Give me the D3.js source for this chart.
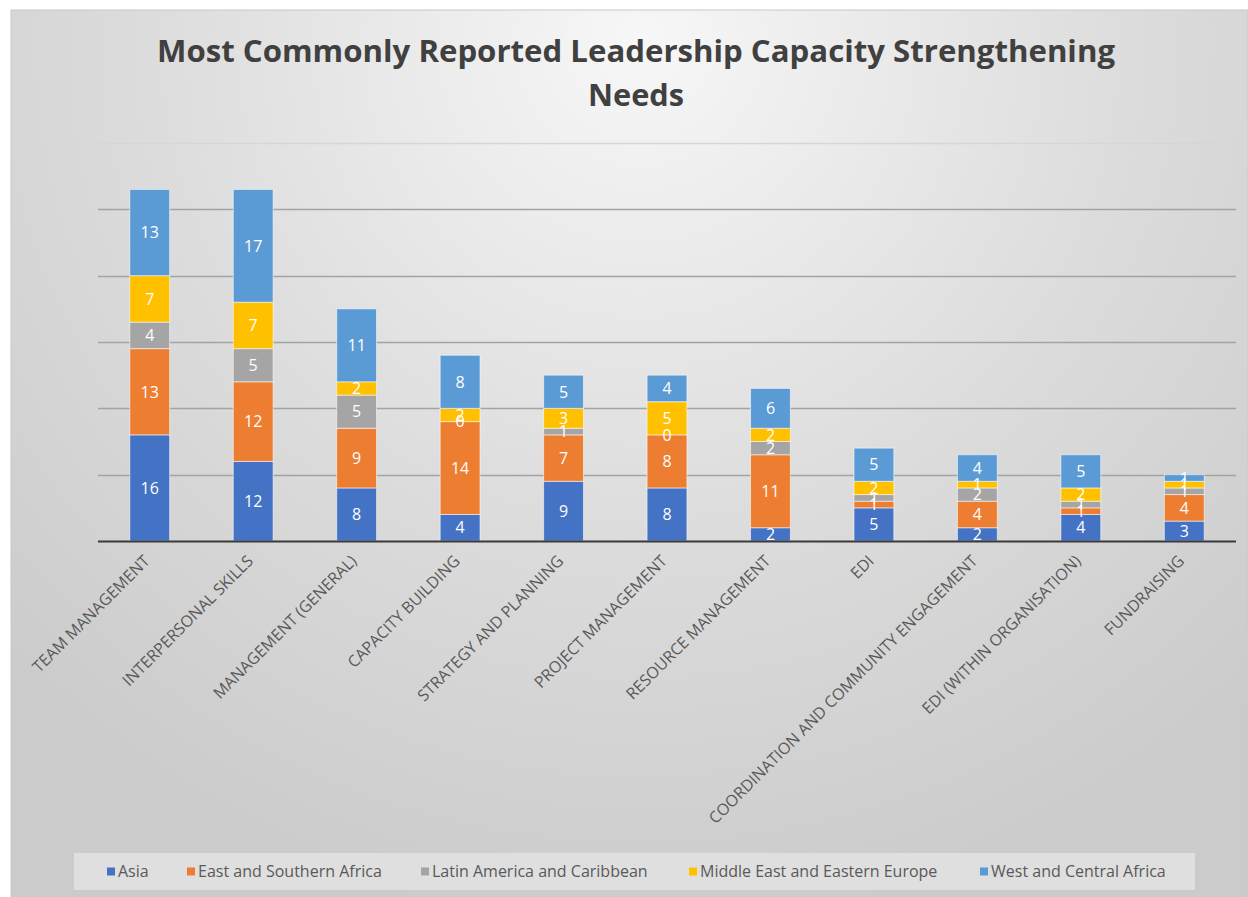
<!DOCTYPE html>
<html>
<head>
<meta charset="utf-8">
<script src="https://cdn.jsdelivr.net/npm/d3@7"></script>
<style>
  html, body { margin: 0; padding: 0; background: #ffffff; }
  svg { display: block; }
  text { font-family: "Open Sans", "Noto Sans", sans-serif; }
</style>
</head>
<body>
<svg id="chart" width="1248" height="897"></svg>
<script>
// Leadership capacity strengthening needs, counted by region
const categories = [
  "TEAM MANAGEMENT", "INTERPERSONAL SKILLS", "MANAGEMENT (GENERAL)", "CAPACITY BUILDING",
  "STRATEGY AND PLANNING", "PROJECT MANAGEMENT", "RESOURCE MANAGEMENT", "EDI",
  "COORDINATION AND COMMUNITY ENGAGEMENT", "EDI (WITHIN ORGANISATION)", "FUNDRAISING"
];
const seriesNames = [
  "Asia", "East and Southern Africa", "Latin America and Caribbean",
  "Middle East and Eastern Europe", "West and Central Africa"
];
const asia            = [16, 12, 8, 4, 9, 8, 2, 5, 2, 4, 3];
const eastSouthAfrica = [13, 12, 9, 14, 7, 8, 11, 1, 4, 1, 4];
const latinAmerica    = [4, 5, 5, 0, 1, 0, 2, 1, 2, 1, 1];
const middleEast      = [7, 7, 2, 2, 3, 5, 2, 2, 1, 2, 1];
const westCentral     = [13, 17, 11, 8, 5, 4, 6, 5, 4, 5, 1];
const yTicks = [0, 10, 20, 30, 40, 50, 60];
const colors = ["#4472C4", "#ED7D31", "#A5A5A5", "#FFC000", "#5B9BD5"];
const titleLines = ["Most Commonly Reported Leadership Capacity Strengthening", "Needs"];

const seriesValues = [asia, eastSouthAfrica, latinAmerica, middleEast, westCentral];
const rows = categories.map((c, i) => {
  const r = { category: c };
  seriesNames.forEach((s, k) => { r[s] = seriesValues[k][i]; });
  return r;
});
const stacked = d3.stack().keys(seriesNames)(rows);

const svg = d3.select("#chart");
const defs = svg.append("defs");

// chart area background: soft grey with a lighter glow near the title
const grad = defs.append("radialGradient")
  .attr("id", "bg").attr("gradientUnits", "userSpaceOnUse")
  .attr("cx", 640).attr("cy", 40).attr("r", 900)
  .attr("fx", 640).attr("fy", 40);
grad.append("stop").attr("offset", "0%").attr("stop-color", "#f7f7f7");
grad.append("stop").attr("offset", "55%").attr("stop-color", "#dcdcdc");
grad.append("stop").attr("offset", "100%").attr("stop-color", "#cbcbcb");

svg.append("rect")
  .attr("x", 11).attr("y", 10).attr("width", 1248 - 11).attr("height", 897 - 10)
  .attr("fill", "url(#bg)")
  .attr("stroke", "#c8c8c8").attr("stroke-width", 1);

const plot = { left: 98, right: 1236, top: 143, bottom: 541 };

const x = d3.scaleBand()
  .domain(categories)
  .range([plot.left, plot.right])
  .paddingInner(0.615).paddingOuter(0.3075);

const y = d3.scaleLinear().domain([0, 60]).range([plot.bottom, plot.top]);

// horizontal gridlines
svg.append("g")
  .selectAll("line")
  .data(yTicks.filter(t => t > 0))
  .join("line")
  .attr("x1", plot.left).attr("x2", plot.right)
  .attr("y1", d => Math.round(y(d)) + 0.5).attr("y2", d => Math.round(y(d)) + 0.5)
  .attr("stroke", d => d === 60 ? "#d6d6d6" : "#a3a3a3")
  .attr("stroke-width", 1.3);

// stacked bars
const layers = svg.append("g")
  .selectAll("g")
  .data(stacked)
  .join("g")
  .attr("fill", (d, i) => colors[i]);

layers.selectAll("rect")
  .data(d => d.map(v => ({ v, cat: v.data.category })))
  .join("rect")
  .attr("x", d => x(d.cat))
  .attr("width", x.bandwidth())
  .attr("y", d => y(d.v[1]))
  .attr("height", d => Math.max(0, y(d.v[0]) - y(d.v[1])))
  .attr("stroke", "#ffffff")
  .attr("stroke-opacity", 0.55)
  .attr("stroke-width", 1);

// baseline
svg.append("line")
  .attr("x1", plot.left).attr("x2", plot.right)
  .attr("y1", plot.bottom + 0.5).attr("y2", plot.bottom + 0.5)
  .attr("stroke", "#3a3a3a").attr("stroke-width", 2.2);

// value labels, one per segment
const labels = svg.append("g").attr("fill", "#ffffff")
  .attr("font-size", 16).attr("text-anchor", "middle");
stacked.forEach((layer) => {
  layer.forEach((v) => {
    const val = v[1] - v[0];
    labels.append("text")
      .attr("x", x(v.data.category) + x.bandwidth() / 2)
      .attr("y", y((v[0] + v[1]) / 2))
      .attr("dy", "0.36em")
      .text(val);
  });
});

// category axis labels, rotated
const xAxis = svg.append("g");
xAxis.selectAll("text")
  .data(categories)
  .join("text")
  .attr("transform", d => `translate(${x(d) + x.bandwidth() / 2 + 1},${plot.bottom + 21}) rotate(-45)`)
  .attr("text-anchor", "end")
  .attr("font-size", 16)
  .attr("fill", "#595959")
  .text(d => d);

// title
const title = svg.append("g").attr("fill", "#404040").attr("font-weight", 700)
  .attr("font-size", 31).attr("text-anchor", "middle");
title.append("text").attr("x", 636).attr("y", 62)
  .attr("textLength", 958).attr("lengthAdjust", "spacingAndGlyphs")
  .text(titleLines[0]);
title.append("text").attr("x", 636).attr("y", 106)
  .attr("textLength", 96).attr("lengthAdjust", "spacingAndGlyphs")
  .text(titleLines[1]);

// legend
const legendBox = { x: 74, y: 853, w: 1121, h: 37 };
svg.append("rect")
  .attr("x", legendBox.x).attr("y", legendBox.y)
  .attr("width", legendBox.w).attr("height", legendBox.h)
  .attr("fill", "#e4e4e4").attr("opacity", 0.8);

const legendX = [107, 187, 421, 689, 980];
const legend = svg.append("g");
seriesNames.forEach((name, i) => {
  const g = legend.append("g").attr("transform", `translate(${legendX[i]},${legendBox.y + legendBox.h / 2})`);
  g.append("rect").attr("x", 0).attr("y", -4).attr("width", 8).attr("height", 8).attr("fill", colors[i]);
  g.append("text").attr("x", 11).attr("dy", "0.35em")
    .attr("font-size", 16).attr("fill", "#595959").text(name);
});
</script>
</body>
</html>
